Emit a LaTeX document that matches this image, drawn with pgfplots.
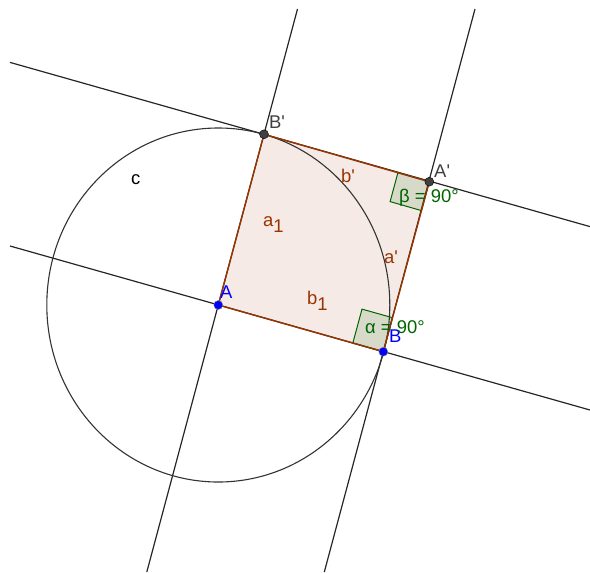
\documentclass[border=0pt]{standalone}
\usepackage{fontspec}
\setmainfont{Liberation Sans}[Ligatures=TeXOff]
\usepackage{pgfplots}
\pgfplotsset{compat=1.18}
\definecolor{ggbrown}{RGB}{153,51,0}
\definecolor{gggreen}{RGB}{0,100,0}
\definecolor{ggblue}{RGB}{0,0,255}
\definecolor{gggray}{RGB}{64,64,64}
\newcommand\lbl{\fontsize{18.5}{21}\selectfont}
\begin{document}
\begin{tikzpicture}
\begin{axis}[
  scale only axis, width=590bp, height=572bp,
  xmin=0, xmax=590, ymin=0, ymax=572, y dir=reverse,
  hide axis, clip=true,
]
% square fill
\addplot[draw=none, fill=ggbrown, fill opacity=0.1] coordinates {(218.3,305) (383.3,351.7) (429.3,181.7) (264,134.3)} -- cycle;
% lines
\addplot[black!85, line width=1.2bp] coordinates {(297.5,9) (146.8,572)};
\addplot[black!85, line width=1.2bp] coordinates {(475,9) (324.3,572)};
\addplot[black!85, line width=1.2bp] coordinates {(10,246) (590,410)};
\addplot[black!85, line width=1.2bp] coordinates {(10,62.4) (590,226.6)};
% circle c
\draw[black!80, line width=1.1bp] (axis cs:218.3,305) ellipse [x radius=171.5, y radius=177];
% right angle markers
\addplot[gggreen, line width=1bp, fill=gggreen, fill opacity=0.12] coordinates {(383.3,351.7) (352.8,343.1) (362,309.1) (392.5,317.7)} -- cycle;
\addplot[gggreen, line width=1bp, fill=gggreen, fill opacity=0.12] coordinates {(429.3,181.7) (397.9,172.7) (390.1,201.6) (421.5,210.6)} -- cycle;
% square edges
\addplot[ggbrown, line width=1.4bp] coordinates {(218.3,305) (383.3,351.7) (429.3,181.7) (264,134.3)} -- cycle;
% points
\addplot[only marks, mark=*, mark size=4.5, mark options={fill=ggblue, draw=black!50}] coordinates {(218.3,305) (383.3,351.7)};
\addplot[only marks, mark=*, mark size=4.5, mark options={fill=gggray, draw=black}] coordinates {(429.3,181.7) (264,134.3)};
% labels
\node[anchor=base west, text=gggray, font=\lbl, inner sep=0pt] at (axis cs:269,128) {B'};
\node[anchor=base west, text=gggray, font=\lbl, inner sep=0pt] at (axis cs:434,177) {A'};
\node[anchor=base west, text=ggblue, font=\lbl, inner sep=0pt] at (axis cs:220,298) {A};
\node[anchor=base west, text=ggblue, font=\lbl, inner sep=0pt] at (axis cs:389,342) {B};
\node[anchor=base west, text=gggreen, font=\lbl, inner sep=0pt] at (axis cs:365,333) {α = 90°};
\node[anchor=base west, text=gggreen, font=\lbl, inner sep=0pt] at (axis cs:399,202) {β = 90°};
\node[anchor=base west, text=black, font=\lbl, inner sep=0pt] at (axis cs:131,184) {c};
\node[anchor=base west, text=ggbrown, font=\lbl, inner sep=0pt] at (axis cs:341,182) {b'};
\node[anchor=base west, text=ggbrown, font=\lbl, inner sep=0pt] at (axis cs:384,263) {a'};
\node[anchor=base west, text=ggbrown, font=\lbl, inner sep=0pt] at (axis cs:263,226) {a\raisebox{-6bp}{1}};
\node[anchor=base west, text=ggbrown, font=\lbl, inner sep=0pt] at (axis cs:307,304) {b\raisebox{-6bp}{1}};
\end{axis}
\path (current axis.south west) rectangle (current axis.north east);
\end{tikzpicture}
\end{document}
